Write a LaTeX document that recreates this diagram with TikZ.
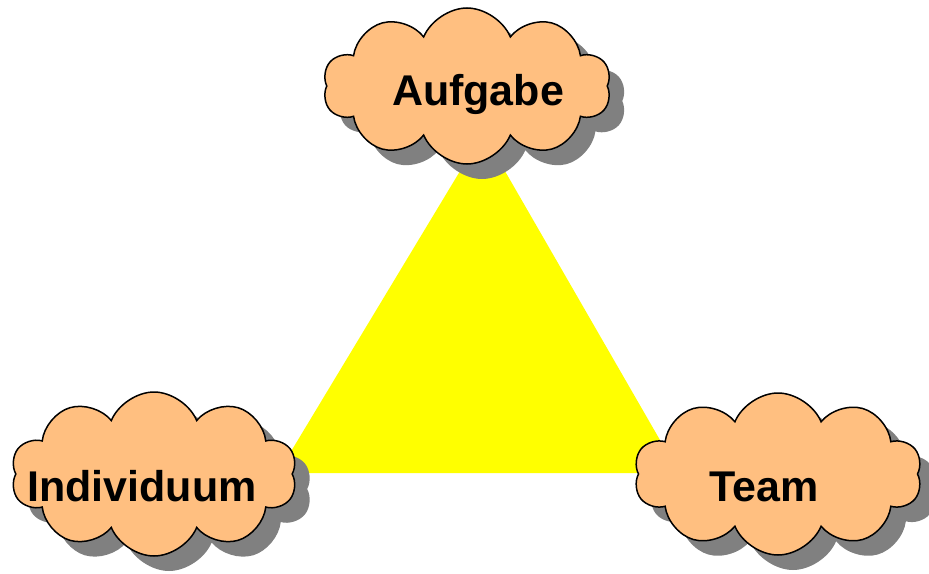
\documentclass[tikz,border=0pt]{standalone}
\usepackage{fontspec}
\setmainfont{Liberation Sans}
\usetikzlibrary{shapes.symbols}
\definecolor{cloudfill}{RGB}{255,191,128}
\definecolor{shadowgray}{RGB}{128,128,128}
\definecolor{triyellow}{RGB}{255,255,0}
\tikzset{
  cloudbase/.style={shape=cloud, cloud puffs=10, cloud puff arc=135, aspect=1.8,
    cloud ignores aspect, inner sep=0pt, minimum width=#1},
  cloudbody/.style={cloudbase=#1, draw=black, line width=1.5pt, fill=cloudfill},
  cloudshadow/.style={cloudbase=#1, fill=shadowgray},
  label/.style={font=\fontsize{43}{43}\selectfont\bfseries, anchor=base, inner sep=0pt}
}
\begin{document}
\begin{tikzpicture}[x=1pt,y=-1pt]
\useasboundingbox (0,0) rectangle (929,573);
% triangle
\fill[triyellow] (483,133) -- (278,473) -- (679,473) -- cycle;
% shadows
\node[cloudshadow=288pt, minimum height=156pt] (sA) at (482,101) {};
\node[cloudshadow=286pt, minimum height=164pt] (sI) at (169,489) {};
\node[cloudshadow=288pt, minimum height=162pt] (sT) at (793,489) {};
% clouds
\node[cloudbody=288pt, minimum height=156pt] (cA) at (467,86) {};
\node[cloudbody=286pt, minimum height=164pt] (cI) at (154,474) {};
\node[cloudbody=288pt, minimum height=162pt] (cT) at (778,474) {};
% labels
\node[label] (tA) at (478,105) {Aufgabe};
\node[label] (tI) at (142,501) {Individuum};
\node[label] (tT) at (764,501) {Team};
\end{tikzpicture}
\end{document}
